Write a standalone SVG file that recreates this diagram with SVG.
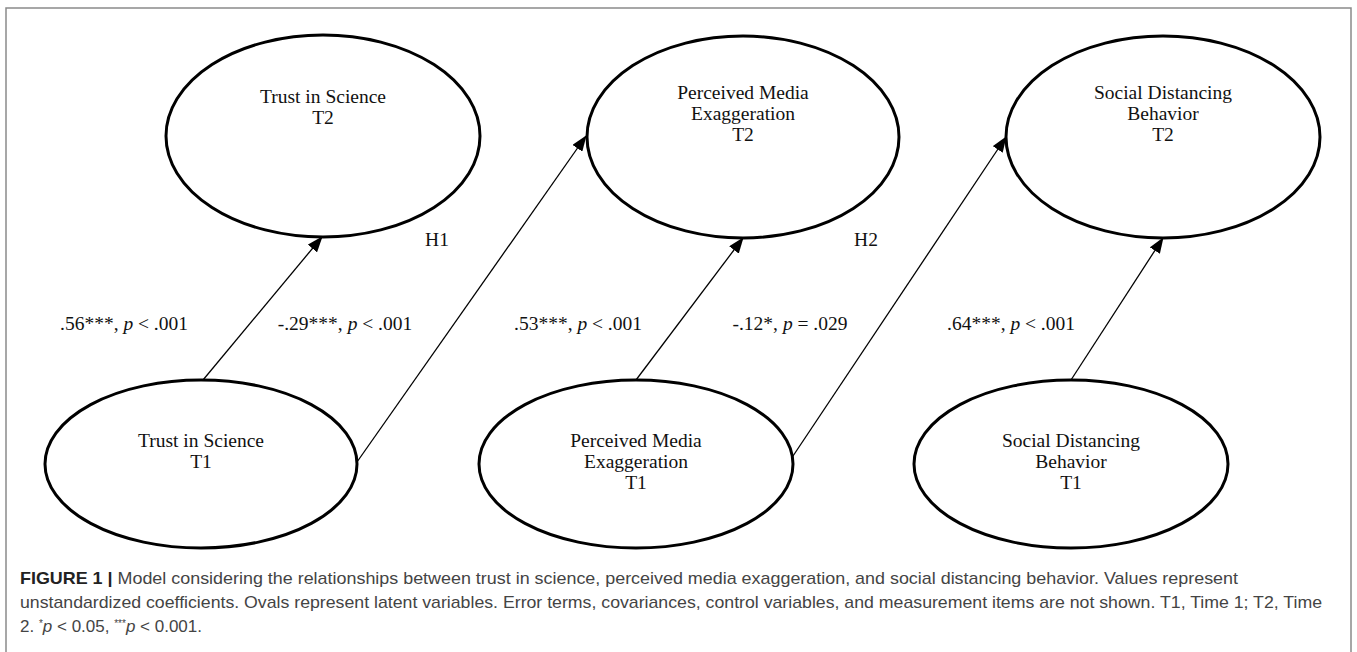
<svg xmlns="http://www.w3.org/2000/svg" width="1357" height="652" viewBox="0 0 1357 652">
<defs>
<marker id="ah" markerWidth="16" markerHeight="12" refX="15" refY="6" orient="auto" markerUnits="userSpaceOnUse">
<path d="M0,0 L16,6 L0,12 Z" fill="#000"/>
</marker>
<style>
.node ellipse{fill:#fff;stroke:#000;stroke-width:3}
.node text,.lbl{font-family:"Liberation Serif","Times New Roman",serif;font-size:19.5px;fill:#111;text-anchor:middle}
.edge{stroke:#000;stroke-width:1.3;fill:none;marker-end:url(#ah)}
.cap{font-family:"Liberation Sans",Arial,sans-serif;font-size:17px;fill:#444}
</style>
</defs>
<rect width="1357" height="652" fill="#fff"/>
<path d="M6,652 V8 H1351 V652" fill="none" stroke="#8a8a8a" stroke-width="1.5"/>

<g id="connectors">
<line class="edge" x1="203" y1="380" x2="322" y2="237"/>
<line class="edge" x1="357" y1="462" x2="586" y2="136"/>
<line class="edge" x1="636" y1="380" x2="743" y2="238"/>
<line class="edge" x1="793" y1="456" x2="1006" y2="137"/>
<line class="edge" x1="1071" y1="380" x2="1163" y2="238"/>
</g>

<g id="trust-t2" class="node">
<ellipse cx="323" cy="136" rx="157" ry="101"/>
<text x="323" y="103">Trust in Science</text>
<text x="323" y="124">T2</text>
</g>
<g id="pme-t2" class="node">
<ellipse cx="743" cy="137" rx="156" ry="101"/>
<text x="743" y="99">Perceived Media</text>
<text x="743" y="120">Exaggeration</text>
<text x="743" y="141">T2</text>
</g>
<g id="sdb-t2" class="node">
<ellipse cx="1163" cy="137" rx="157" ry="101"/>
<text x="1163" y="99">Social Distancing</text>
<text x="1163" y="120">Behavior</text>
<text x="1163" y="141">T2</text>
</g>
<g id="trust-t1" class="node">
<ellipse cx="201" cy="464" rx="156" ry="84"/>
<text x="201" y="447">Trust in Science</text>
<text x="201" y="468">T1</text>
</g>
<g id="pme-t1" class="node">
<ellipse cx="636" cy="464" rx="157" ry="84"/>
<text x="636" y="447">Perceived Media</text>
<text x="636" y="468">Exaggeration</text>
<text x="636" y="489">T1</text>
</g>
<g id="sdb-t1" class="node">
<ellipse cx="1071" cy="464" rx="157" ry="84"/>
<text x="1071" y="447">Social Distancing</text>
<text x="1071" y="468">Behavior</text>
<text x="1071" y="489">T1</text>
</g>

<g id="labels">
<text class="lbl" x="124" y="330">.56***, <tspan font-style="italic">p</tspan> &lt; .001</text>
<text class="lbl" x="345" y="330">-.29***, <tspan font-style="italic">p</tspan> &lt; .001</text>
<text class="lbl" x="578" y="330">.53***, <tspan font-style="italic">p</tspan> &lt; .001</text>
<text class="lbl" x="790" y="330">-.12*, <tspan font-style="italic">p</tspan> = .029</text>
<text class="lbl" x="1011" y="330">.64***, <tspan font-style="italic">p</tspan> &lt; .001</text>
<text class="lbl" x="437" y="246">H1</text>
<text class="lbl" x="866" y="246">H2</text>
</g>

<g id="caption">
<text class="cap" x="20" y="584" textLength="1218" lengthAdjust="spacingAndGlyphs"><tspan font-weight="bold" fill="#222">FIGURE 1 |</tspan> Model considering the relationships between trust in science, perceived media exaggeration, and social distancing behavior. Values represent</text>
<text class="cap" x="20" y="608" textLength="1302" lengthAdjust="spacingAndGlyphs">unstandardized coefficients. Ovals represent latent variables. Error terms, covariances, control variables, and measurement items are not shown. T1, Time 1; T2, Time</text>
<text class="cap" x="20" y="632">2. <tspan baseline-shift="super" font-size="10px">*</tspan><tspan font-style="italic">p</tspan> &lt; 0.05, <tspan baseline-shift="super" font-size="10px">***</tspan><tspan font-style="italic">p</tspan> &lt; 0.001.</text>
</g>
</svg>
